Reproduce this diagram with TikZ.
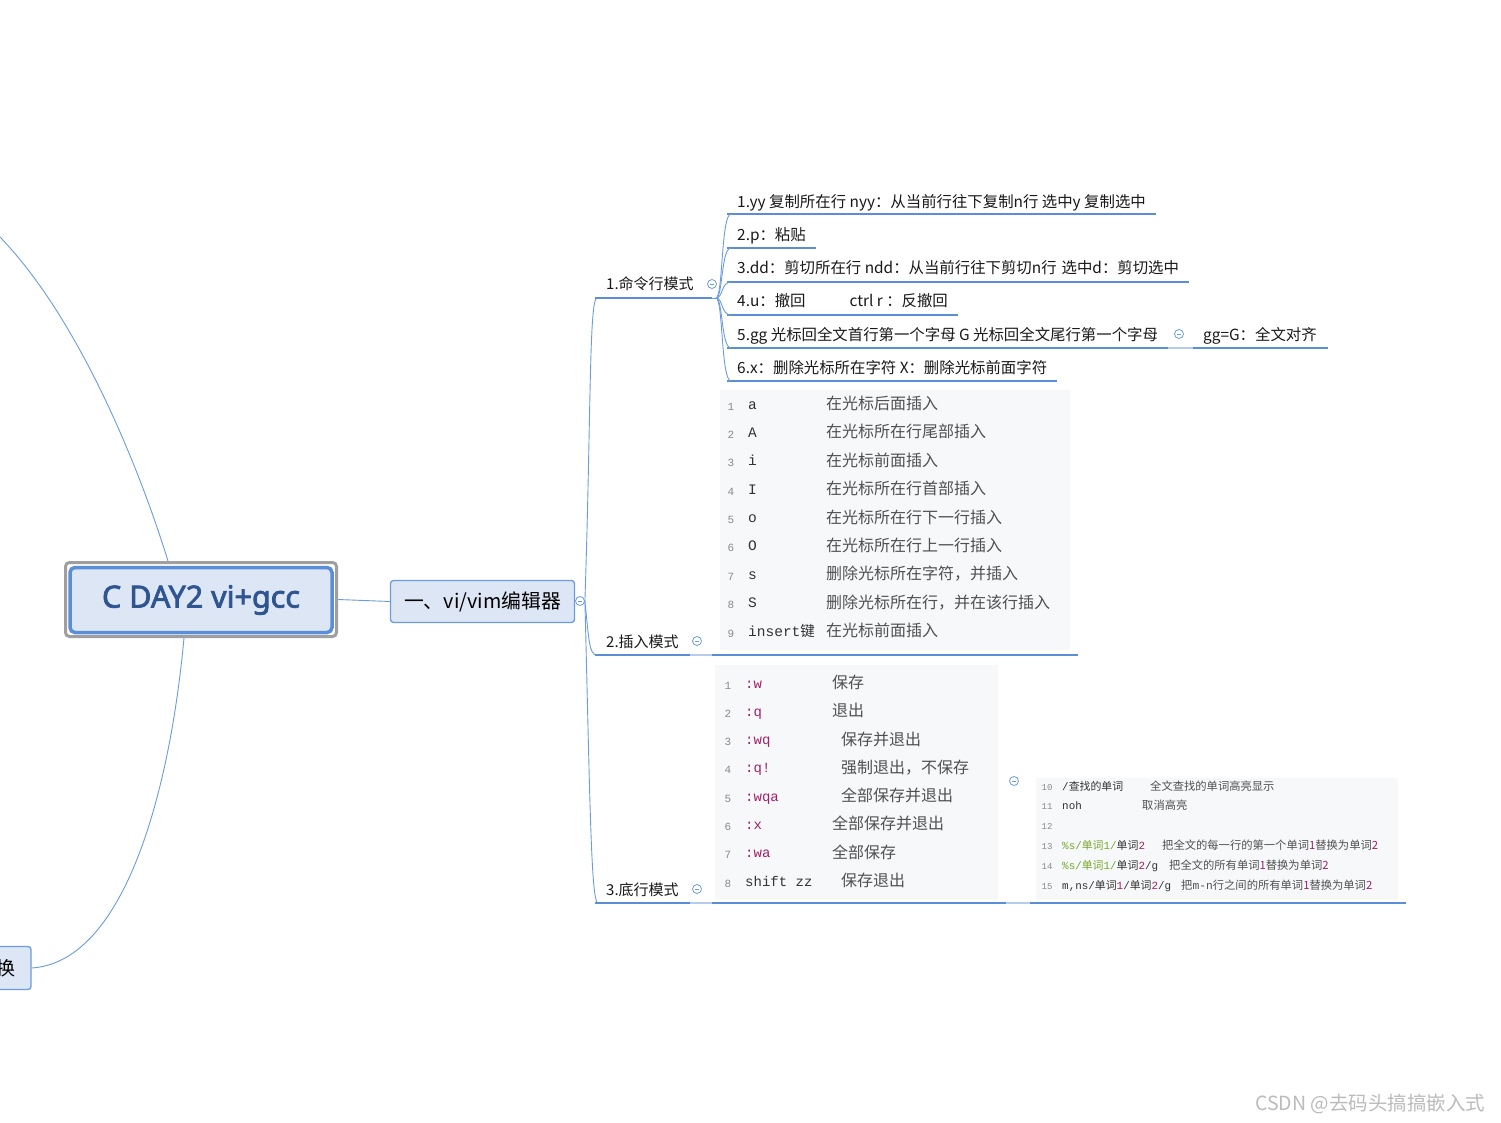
\documentclass[tikz,border=0pt]{standalone}
\usepackage{fontspec}
\usetikzlibrary{calc}
\setmainfont{Noto Sans CJK SC}
\newfontfamily\cjk{Noto Sans CJK SC}
\newfontfamily\titlefont[FakeBold=2.4]{Noto Sans}
\newfontfamily\mono{Liberation Mono}
\newcommand\zh[1]{{\cjk #1}}
\definecolor{lineblue}{HTML}{5A8ED8}
\definecolor{thinblue}{HTML}{6C9CDD}
\definecolor{nodefill}{HTML}{DCE6F4}
\definecolor{titlecol}{HTML}{2F5591}
\definecolor{codebg}{HTML}{F7F8FA}
\definecolor{numgrey}{HTML}{8A8A8A}
\definecolor{descgrey}{HTML}{505050}
\definecolor{codeblk}{HTML}{333333}
\definecolor{kw}{HTML}{A0206A}
\definecolor{grn}{HTML}{78A82C}
\definecolor{wm}{HTML}{BBBBBB}
\tikzset{
 thinline/.style={draw=thinblue, line width=0.9pt},
 uline/.style={draw=lineblue, line width=2.6pt},
 faintline/.style={draw=lineblue!45, line width=2pt},
 txt/.style={anchor=base west, inner sep=0pt, font=\fontsize{15.4}{18}\selectfont, text=black!90},
 blbl/.style={anchor=base west, inner sep=0pt, font=\fontsize{15}{18}\selectfont, text=black!90},
 btn/.style={circle, draw=thinblue, fill=white, minimum size=9pt, inner sep=0pt, line width=0.8pt,
   path picture={\draw[thinblue, line width=0.8pt] ([xshift=-2.4pt]path picture bounding box.center) -- ([xshift=2.4pt]path picture bounding box.center);}},
 codebox/.style={fill=codebg, anchor=north west, inner sep=0pt},
 lnum/.style={anchor=base, inner sep=0pt, font=\mono\fontsize{11}{12}\selectfont, text=numgrey},
 ccode/.style={anchor=base west, inner sep=0pt, font=\mono\fontsize{14.5}{17}\selectfont, text=codeblk},
 cdesc/.style={anchor=base west, inner sep=0pt, font=\fontsize{16}{18}\selectfont, text=descgrey},
 snum/.style={anchor=base, inner sep=0pt, font=\mono\fontsize{9}{10}\selectfont, text=numgrey},
 scode/.style={anchor=base west, inner sep=0pt, font=\mono\fontsize{10.9}{12}\selectfont, text=codeblk},
 sdesc/.style={anchor=base west, inner sep=0pt, font=\fontsize{11.3}{12}\selectfont, text=descgrey},
}
\begin{document}
\begin{tikzpicture}[x=1pt,y=-1pt]
\clip (0,0) rectangle (1501,1123);
\fill[white] (0,0) rectangle (1501,1123);

% ---- root ----
\node[draw=gray!75, line width=3pt, fill=white, rounded corners=4pt, minimum width=271pt, minimum height=74pt, inner sep=0pt] (rootframe) at (201,599.5) {};
\node[draw=lineblue, line width=3.5pt, fill=nodefill, rounded corners=5pt, minimum width=262pt, minimum height=65pt, inner sep=0pt, font=\titlefont\fontsize{30.5}{34}\selectfont, text=titlecol] (root) at (201,600) {C DAY2 vi+gcc};

% ---- partial node at left ----
\node[draw=thinblue, line width=1.3pt, fill=nodefill, rounded corners=3pt, minimum width=50pt, minimum height=43pt, inner sep=0pt, font=\fontsize{19}{22}\selectfont] (prev) at (6,968) {换};

\coordinate (rtop) at ($(rootframe.north)+(-33,0)$);
\coordinate (rbot) at ($(rootframe.south)+(-17,0)$);
\coordinate (offtop) at (0,237);
\draw[thinline] (rtop) .. controls (140,470) and (80,320) .. (offtop);
\draw[thinline] (rbot) .. controls (170,790) and (125,962) .. (prev.east);

% ---- vi node ----
\node[draw=thinblue, line width=1.3pt, fill=nodefill, rounded corners=3pt, minimum width=184pt, minimum height=42pt, inner sep=0pt, font=\fontsize{19.8}{23}\selectfont] (vi) at (482.5,601.5) {一、vi/vim编辑器};
\draw[thinline] (rootframe.east) -- (vi.west);
\node[btn] (k0) at (580,601) {};

% ---- branch 1 ----
\node[blbl] (b1) at (606,289) {1.命令行模式};
\node[btn] (k1) at (712,284) {};
\draw[thinline] (k0.east) .. controls (591,420) and (589,298) .. (597,298);
\draw[uline] (595,298) -- (712,298);
\draw[thinline] (712,298) -- (718,298);
\coordinate (hub1) at (716,298);
\foreach \ty/\uy/\lbl [count=\i] in {
 201/214/{1.yy 复制所在行 nyy：从当前行往下复制n行 选中y 复制选中},
 234/248/{2.p：粘贴},
 267/282/{3.dd：剪切所在行 ndd：从当前行往下剪切n行\hspace{5pt}选中d：剪切选中},
 300/315/{4.u：撤回\hspace{44pt}ctrl r ：反撤回},
 334/348/{5.gg 光标回全文首行第一个字母 G 光标回全文尾行第一个字母},
 367/381/{6.x：删除光标所在字符 X：删除光标前面字符}} {
  \node[txt] (c\i) at (737,\ty+6.5) {\lbl};
  \draw[uline] (727,\uy) -- ($(c\i.east |- 0,\uy)+(10,0)$);
  \draw[thinline] (hub1) .. controls (723,298) and (721,\uy) .. (731,\uy);
}
\node[btn] (k5) at (1179,334) {};
\node[txt] (g5) at (1203,340.5) {gg=G：全文对齐};
\draw[faintline] ($(c5.east |- 0,348)+(10,0)$) -- (1193,348);
\draw[uline] (1193,348) -- ($(g5.east |- 0,348)+(11,0)$);

% ---- branch 2 ----
\node[codebox, minimum width=350pt, minimum height=260pt] (cb2) at (720,390) {};
\node[blbl] (b2) at (606,647) {2.插入模式};
\node[btn] (k2) at (697,641) {};
\draw[thinline] (k0.east) .. controls (589,640) and (589,655) .. (597,655);
\draw[uline] (595,655) -- (690,655);
\draw[faintline] (690,655) -- (712,655);
\draw[uline] (712,655) -- (1078,655);
\foreach \cd/\ds [count=\i] in {
 a/在光标后面插入, A/在光标所在行尾部插入, i/在光标前面插入, I/在光标所在行首部插入,
 o/在光标所在行下一行插入, O/在光标所在行上一行插入, s/{删除光标所在字符，并插入},
 S/{删除光标所在行，并在该行插入}, {insert\zh{键}}/在光标前面插入} {
  \pgfmathsetmacro\yy{404+(\i-1)*28.375}
  \node[lnum] (p\i) at (731,\yy+6) {\i};
  \node[ccode] (q\i) at (748,\yy+5) {\cd};
  \node[cdesc] (r\i) at (826,\yy+5.5) {\ds};
}

% ---- branch 3 ----
\node[codebox, minimum width=283pt, minimum height=235pt] (cb3) at (715,665) {};
\node[codebox, minimum width=362pt, minimum height=122pt] (cb4) at (1036,778) {};
\node[blbl] (b3) at (606,895) {3.底行模式};
\node[btn] (k3) at (697,889) {};
\node[btn] (k4) at (1014,781) {};
\draw[thinline] (k0.east) .. controls (590,800) and (591,903) .. (598,903);
\draw[uline] (595,903) -- (690,903);
\draw[faintline] (690,903) -- (712,903);
\draw[uline] (712,903) -- (1006,903);
\draw[faintline] (1006,903) -- (1030,903);
\draw[uline] (1030,903) -- (1406,903);
\foreach \cd/\dx/\ds [count=\i] in {
 {\textcolor{kw}{:w}}/832/保存, {\textcolor{kw}{:q}}/832/退出, {\textcolor{kw}{:wq}}/841/保存并退出,
 {\textcolor{kw}{:q!}}/841/{强制退出，不保存}, {\textcolor{kw}{:wqa}}/841/全部保存并退出,
 {\textcolor{kw}{:x}}/832/全部保存并退出, {\textcolor{kw}{:wa}}/832/全部保存, {shift zz}/841/保存退出} {
  \pgfmathsetmacro\yy{683+(\i-1)*28.29}
  \node[lnum] (s\i) at (728,\yy+6) {\i};
  \node[ccode, font=\mono\fontsize{14}{17}\selectfont] (t\i) at (745,\yy+5) {\cd};
  \node[cdesc] (u\i) at (\dx,\yy+5.5) {\ds};
}
\foreach \cd/\dx/\ds [count=\i from 10] in {
 {/\zh{查找的单词}}/1150/全文查找的单词高亮显示,
 {noh}/1142/取消高亮,
 {}/1142/{},
 {\textcolor{grn}{\%s/\zh{单词}1/}\zh{单词}\textcolor{kw}{2}}/1162/{把全文的每一行的第一个单词\textcolor{kw}{1}替换为单词\textcolor{kw}{2}},
 {\textcolor{grn}{\%s/\zh{单词}1/}\zh{单词}\textcolor{kw}{2}/g}/1169/{把全文的所有单词\textcolor{kw}{1}替换为单词\textcolor{kw}{2}},
 {m,ns/\zh{单词}\textcolor{kw}{1}/\zh{单词}\textcolor{kw}{2}/g}/1181/{把{\mono m-n}行之间的所有单词\textcolor{kw}{1}替换为单词\textcolor{kw}{2}}} {
  \pgfmathsetmacro\yy{786+(\i-10)*19.8}
  \node[snum] (v\i) at (1047,\yy+4) {\i};
  \node[scode] (w\i) at (1062,\yy+4) {\cd};
  \node[sdesc] (z\i) at (\dx,\yy+4) {\ds};
}

% ---- watermark ----
\node[anchor=base west, inner sep=0pt, font=\fontsize{19.5}{22}\selectfont, text=wm] (mark) at (1255,1110) {CSDN @去码头搞搞嵌入式};
\end{tikzpicture}
\end{document}
